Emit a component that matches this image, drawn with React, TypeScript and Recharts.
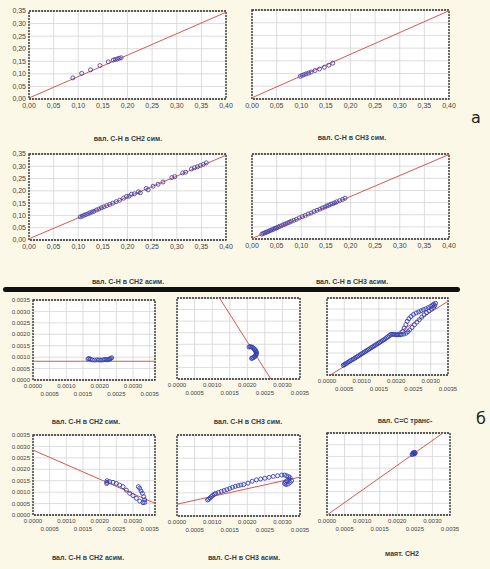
import React from 'react';
import { ScatterChart, Scatter, XAxis, YAxis, CartesianGrid, ReferenceLine, ReferenceArea } from 'recharts';

// ---------- tick values ----------
const topXTicks = [0, 0.05, 0.1, 0.15, 0.2, 0.25, 0.3, 0.35, 0.4];
const topYTicks = [0, 0.05, 0.1, 0.15, 0.2, 0.25, 0.3, 0.35];
const botXTicks = [0, 0.0005, 0.001, 0.0015, 0.002, 0.0025, 0.003, 0.0035];
const botYTicks = [0, 0.0005, 0.001, 0.0015, 0.002, 0.0025, 0.003, 0.0035];

// ---------- titles ----------
const titles = [
  'вал. С-Н в СН2 сим.', 'вал. С-Н в СН3 сим.', 'вал. С-Н в СН2 асим.', 'вал. С-Н в СН3 асим.',
  'вал. С-Н в СН2 сим.', 'вал. С-Н в СН3 сим.', 'вал. С=С транс-',
  'вал. С-Н в СН2 асим.', 'вал. С-Н в СН3 асим.', 'маят. СН2',
];

// ---------- (a) panel 1 : CH2 sym ----------
const a1X = [0.089, 0.107, 0.125, 0.144, 0.161, 0.171, 0.175, 0.179, 0.183, 0.187];
const a1Y = [0.084, 0.102, 0.116, 0.133, 0.148, 0.155, 0.157, 0.159, 0.162, 0.164];
const a1Line = [[0, 0.004], [0.4, 0.345]];

// ---------- (a) panel 2 : CH3 sym ----------
const a2X = [0.098, 0.102, 0.106, 0.11, 0.115, 0.12, 0.128, 0.137, 0.147, 0.156, 0.164];
const a2Y = [0.089, 0.093, 0.096, 0.099, 0.102, 0.106, 0.112, 0.118, 0.125, 0.133, 0.141];
const a2Line = [[0, 0.005], [0.4, 0.347]];

// ---------- (a) panel 3 : CH2 asym ----------
const a3X = [0.104, 0.108, 0.112, 0.116, 0.12, 0.124, 0.128, 0.132, 0.137, 0.142, 0.147, 0.152, 0.158, 0.164, 0.17, 0.177, 0.184, 0.192, 0.198, 0.203, 0.208, 0.214, 0.222, 0.226, 0.238, 0.242, 0.252, 0.262, 0.272, 0.29, 0.296, 0.312, 0.318, 0.33, 0.336, 0.342, 0.348, 0.354, 0.36];
const a3Y = [0.094, 0.097, 0.101, 0.104, 0.107, 0.111, 0.114, 0.117, 0.122, 0.126, 0.131, 0.135, 0.14, 0.145, 0.15, 0.156, 0.162, 0.17, 0.177, 0.178, 0.186, 0.188, 0.196, 0.192, 0.21, 0.204, 0.219, 0.227, 0.236, 0.254, 0.258, 0.273, 0.276, 0.289, 0.294, 0.298, 0.303, 0.308, 0.314];
const a3Line = [[0, 0.005], [0.4, 0.345]];

// ---------- (a) panel 4 : CH3 asym ----------
const a4X = [0.02, 0.023, 0.026, 0.029, 0.032, 0.035, 0.038, 0.041, 0.044, 0.047, 0.05, 0.053, 0.056, 0.06, 0.064, 0.068, 0.072, 0.076, 0.08, 0.085, 0.09, 0.096, 0.102, 0.108, 0.114, 0.12, 0.126, 0.132, 0.138, 0.143, 0.148, 0.152, 0.156, 0.16, 0.164, 0.168, 0.172, 0.178, 0.184, 0.189];
const a4Y = [0.02, 0.023, 0.025, 0.028, 0.03, 0.033, 0.036, 0.038, 0.041, 0.044, 0.046, 0.049, 0.052, 0.055, 0.059, 0.062, 0.066, 0.069, 0.073, 0.077, 0.081, 0.087, 0.092, 0.097, 0.103, 0.107, 0.113, 0.118, 0.123, 0.128, 0.132, 0.136, 0.139, 0.143, 0.146, 0.149, 0.153, 0.158, 0.163, 0.168];
const a4Line = [[0, 0.002], [0.4, 0.348]];

// ---------- (б) panel 1 : CH2 sym ----------
const b1X = [0.00165, 0.00168, 0.00172, 0.00178, 0.00185, 0.00192, 0.00198, 0.00204, 0.0021, 0.00215, 0.00219, 0.00223, 0.00227, 0.0023, 0.00233, 0.00236];
const b1Y = [0.00092, 0.00094, 0.00091, 0.00088, 0.00087, 0.00088, 0.00088, 0.00087, 0.00088, 0.0009, 0.00089, 0.00088, 0.0009, 0.00092, 0.00094, 0.00097];
const b1Line = [[0, 0.00082], [0.00366, 0.00082]];

// ---------- (б) panel 2 : CH3 sym ----------
const b2X = [0.00205, 0.00208, 0.00211, 0.00214, 0.00217, 0.0022, 0.00222, 0.00224, 0.00225, 0.00226, 0.00226, 0.00225, 0.00224, 0.00222, 0.0022, 0.00217, 0.00214, 0.00212];
const b2Y = [0.00138, 0.0014, 0.00139, 0.00137, 0.00134, 0.0013, 0.00126, 0.00122, 0.00118, 0.00114, 0.0011, 0.00106, 0.00102, 0.00098, 0.00095, 0.00092, 0.0009, 0.00089];
const b2Line = [[0.00121, 0.0035], [0.00267, 0]];

// ---------- (б) panel 3 : C=C trans ----------
const b3X = [0.00047, 0.0005, 0.00053, 0.00056, 0.0006, 0.00064, 0.00068, 0.00072, 0.00076, 0.0008, 0.00084, 0.00088, 0.00092, 0.00096, 0.001, 0.00104, 0.00108, 0.00112, 0.00116, 0.0012, 0.00124, 0.00128, 0.00132, 0.00136, 0.0014, 0.00144, 0.00148, 0.00152, 0.00156, 0.0016, 0.00164, 0.00168, 0.00172, 0.00176, 0.0018, 0.00184,
  0.00188, 0.00192, 0.00196, 0.002, 0.00204, 0.00208, 0.00212, 0.00215,
  0.00219, 0.00223, 0.00228, 0.00232, 0.00237, 0.00243, 0.0025, 0.00258, 0.00265, 0.00272, 0.00279, 0.00286, 0.00293, 0.003, 0.00305, 0.00309, 0.00314,
  0.00222, 0.00229, 0.00234, 0.00239, 0.00246, 0.00253, 0.0026, 0.00267, 0.00274, 0.00281, 0.00288, 0.00295, 0.00302, 0.00308, 0.00312];
const b3Y = [0.00044, 0.00047, 0.0005, 0.00053, 0.00057, 0.00061, 0.00065, 0.00069, 0.00072, 0.00076, 0.0008, 0.00084, 0.00088, 0.00092, 0.00096, 0.001, 0.00104, 0.00108, 0.00112, 0.00116, 0.0012, 0.00124, 0.00128, 0.00132, 0.00136, 0.0014, 0.00144, 0.00148, 0.00152, 0.00156, 0.0016, 0.00164, 0.00169, 0.00174, 0.00179, 0.00184,
  0.00185, 0.00185, 0.00184, 0.00183, 0.00183, 0.00183, 0.00183, 0.00184,
  0.00198, 0.00213, 0.00229, 0.00244, 0.00256, 0.00266, 0.00275, 0.00282, 0.00287, 0.00292, 0.00297, 0.00301, 0.00306, 0.00312, 0.00317, 0.00322, 0.00326,
  0.00186, 0.0019, 0.00197, 0.00205, 0.00216, 0.00228, 0.0024, 0.00251, 0.00263, 0.00274, 0.00283, 0.00292, 0.003, 0.00307, 0.00315];
const b3Line = [[0.0001, 0], [0.0035, 0.00335]];

// ---------- (б) panel 4 : CH2 asym ----------
const b4X = [0.00221, 0.00222, 0.00222, 0.0023, 0.0024, 0.0025, 0.0026, 0.0027, 0.0028, 0.0029, 0.003, 0.0031, 0.0032, 0.0033, 0.00335, 0.00335, 0.00332, 0.00328, 0.00324, 0.0032, 0.00316];
const b4Y = [0.00138, 0.00143, 0.0015, 0.00146, 0.00143, 0.00138, 0.00131, 0.00124, 0.00109, 0.00095, 0.00085, 0.00073, 0.00061, 0.00054, 0.00055, 0.00066, 0.0008, 0.00095, 0.00105, 0.00117, 0.00124];
const b4Line = [[0, 0.00284], [0.00366, 0.00051]];

// ---------- (б) panel 5 : CH3 asym ----------
const b5X = [0.00087, 0.0009, 0.00094, 0.00098, 0.00102, 0.00106, 0.0011, 0.00118, 0.00126, 0.00134, 0.00142, 0.0015, 0.00158, 0.00166, 0.00174, 0.00182, 0.0019, 0.00202, 0.00214, 0.00226, 0.00238, 0.0025, 0.00262, 0.00274, 0.00286, 0.00298, 0.00306, 0.00312, 0.00318, 0.00322, 0.00318, 0.00312, 0.00308, 0.00306, 0.0031, 0.00316, 0.00322, 0.00326];
const b5Y = [0.00069, 0.00073, 0.00078, 0.00084, 0.00089, 0.00094, 0.00098, 0.00102, 0.00106, 0.0011, 0.00114, 0.00119, 0.00124, 0.00128, 0.00131, 0.00134, 0.00136, 0.00142, 0.0015, 0.00156, 0.0016, 0.00163, 0.00167, 0.00171, 0.00174, 0.00177, 0.00177, 0.00174, 0.0017, 0.00165, 0.00158, 0.00152, 0.00146, 0.0014, 0.00136, 0.00138, 0.00145, 0.00152];
const b5Line = [[0, 0.00051], [0.0035, 0.00168]];

// ---------- (б) panel 6 : маят. CH2 ----------
const b6X = [0.00242, 0.00244, 0.00246, 0.00248, 0.0025, 0.00245, 0.00249, 0.00251];
const b6Y = [0.00258, 0.0026, 0.00263, 0.00265, 0.00267, 0.00266, 0.00261, 0.00264];
const b6Line = [[0, 0], [0.0033, 0.0035]];

const FONT = "'Liberation Sans', Arial, sans-serif";
const zip = (xs: number[], ys: number[]) => xs.map((x, i) => ({ x, y: ys[i] }));
const seg = (l: number[][]) => [{ x: l[0][0], y: l[0][1] }, { x: l[1][0], y: l[1][1] }];

type Cfg = {
  pl: number; pt: number; pw: number; ph: number;
  xd: [number, number]; showY: boolean; top: boolean;
  xs: number[]; ys: number[]; line: number[][];
};

const Marker = (r: number, color: string) => (props: any) => (
  <circle cx={props.cx} cy={props.cy} r={r} fill="none" stroke={color} strokeWidth={0.9} />
);

const topFmt = (v: number) => v.toFixed(2).replace('.', ',');
const botFmt = (v: number) => v.toFixed(4);

const StagTick = (props: any) => {
  const { x, y, payload, index } = props;
  const row = index % 2;
  return (
    <text x={x} y={y} dy={row ? 14 : 6} textAnchor="middle" fontSize={6} fontFamily={FONT} fill="#444">
      {botFmt(payload.value)}
    </text>
  );
};

function Panel({ c }: { c: Cfg }) {
  const yW = c.showY ? (c.top ? 28 : 30) : 0;
  const mL = 12, mT = 6, mR = 14;
  const xH = c.top ? 16 : 24;
  const W = mL + yW + c.pw + mR;
  const H = mT + c.ph + xH;
  const yd: [number, number] = c.top ? [0, 0.35] : [0, 0.0035];
  const xTicks = c.top ? topXTicks : botXTicks;
  const yTicks = c.top ? topYTicks : botYTicks;
  const pts = zip(c.xs, c.ys);
  return (
    <div style={{ position: 'absolute', left: c.pl - mL - yW, top: c.pt - mT }}>
      <ScatterChart width={W} height={H} margin={{ top: mT, right: mR, bottom: 0, left: mL }}>
        <CartesianGrid stroke="#d4d4d4" strokeWidth={0.8} fill="#ffffff" />
        <XAxis
          type="number" dataKey="x" domain={c.xd} ticks={xTicks} interval={0} allowDataOverflow
          axisLine={false} tickLine={false} tickSize={0} tickMargin={c.top ? 4 : 2} height={xH}
          tick={c.top ? { fontSize: 7, fontFamily: FONT, fill: '#444' } : <StagTick />}
          tickFormatter={c.top ? topFmt : botFmt}
        />
        <YAxis
          type="number" dataKey="y" domain={yd} ticks={yTicks} interval={0} allowDataOverflow
          hide={!c.showY} width={yW} axisLine={false} tickLine={false} tickSize={0} tickMargin={3}
          tick={{ fontSize: c.top ? 7 : 6, fontFamily: FONT, fill: '#444' }}
          tickFormatter={c.top ? topFmt : botFmt}
        />
        <ReferenceLine segment={seg(c.line)} stroke="#d9574f" strokeWidth={1} ifOverflow="hidden" />
        <Scatter data={pts} shape={Marker(c.top ? 2 : 2, c.top ? '#4743a8' : '#3340b0')} isAnimationActive={false} />
        <ReferenceArea x1={c.xd[0]} x2={c.xd[1]} y1={yd[0]} y2={yd[1]} fill="none" fillOpacity={0}
          stroke="#2a2a2a" strokeWidth={1.3} strokeDasharray="2 1" ifOverflow="visible" />
      </ScatterChart>
    </div>
  );
}

const panels: Cfg[] = [
  { pl: 29, pt: 11, pw: 197, ph: 88, xd: [0, 0.4], showY: true, top: true, xs: a1X, ys: a1Y, line: a1Line },
  { pl: 252, pt: 10, pw: 197, ph: 89, xd: [0, 0.4], showY: false, top: true, xs: a2X, ys: a2Y, line: a2Line },
  { pl: 29, pt: 154, pw: 197, ph: 86, xd: [0, 0.4], showY: true, top: true, xs: a3X, ys: a3Y, line: a3Line },
  { pl: 252, pt: 154, pw: 197, ph: 85, xd: [0, 0.4], showY: false, top: true, xs: a4X, ys: a4Y, line: a4Line },
  { pl: 33, pt: 300, pw: 122, ph: 80, xd: [0, 0.00366], showY: true, top: false, xs: b1X, ys: b1Y, line: b1Line },
  { pl: 177, pt: 298, pw: 123, ph: 81, xd: [0, 0.0035], showY: false, top: false, xs: b2X, ys: b2Y, line: b2Line },
  { pl: 327, pt: 298, pw: 121, ph: 77, xd: [0, 0.0035], showY: false, top: false, xs: b3X, ys: b3Y, line: b3Line },
  { pl: 33, pt: 435, pw: 122, ph: 80, xd: [0, 0.00366], showY: true, top: false, xs: b4X, ys: b4Y, line: b4Line },
  { pl: 177, pt: 435, pw: 123, ph: 81, xd: [0, 0.0035], showY: false, top: false, xs: b5X, ys: b5Y, line: b5Line },
  { pl: 327, pt: 433, pw: 123, ph: 82, xd: [0, 0.0035], showY: false, top: false, xs: b6X, ys: b6Y, line: b6Line },
];

const titlePos = [
  [128, 138], [352, 137], [128, 281], [352, 281],
  [86, 421], [248, 421], [405, 420],
  [88, 557], [244, 557], [402, 553],
];

export default function App() {
  return (
    <div style={{ position: 'absolute', left: 0, top: 0, width: 490, height: 569, background: '#fbf8e8', overflow: 'hidden', fontFamily: FONT }}>
      {panels.map((c, i) => <Panel key={i} c={c} />)}
      {titles.map((t, i) => (
        <div key={'t' + i} style={{
          position: 'absolute', left: titlePos[i][0], top: titlePos[i][1], transform: 'translate(-50%, -50%)',
          fontSize: 7, fontWeight: 'bold', color: '#3b3b3b', whiteSpace: 'nowrap', fontFamily: FONT,
        }}>{t}</div>
      ))}
      <div style={{ position: 'absolute', left: 3, top: 287, width: 457, height: 5, background: '#111', borderRadius: 3 }} />
      <div style={{ position: 'absolute', left: 476, top: 117, transform: 'translate(-50%, -50%)', fontSize: 16, color: '#222', fontFamily: "'DejaVu Sans', sans-serif" }}>а</div>
      <div style={{ position: 'absolute', left: 481, top: 418, transform: 'translate(-50%, -50%)', fontSize: 16, color: '#222', fontFamily: "'DejaVu Sans', sans-serif" }}>б</div>
    </div>
  );
}
